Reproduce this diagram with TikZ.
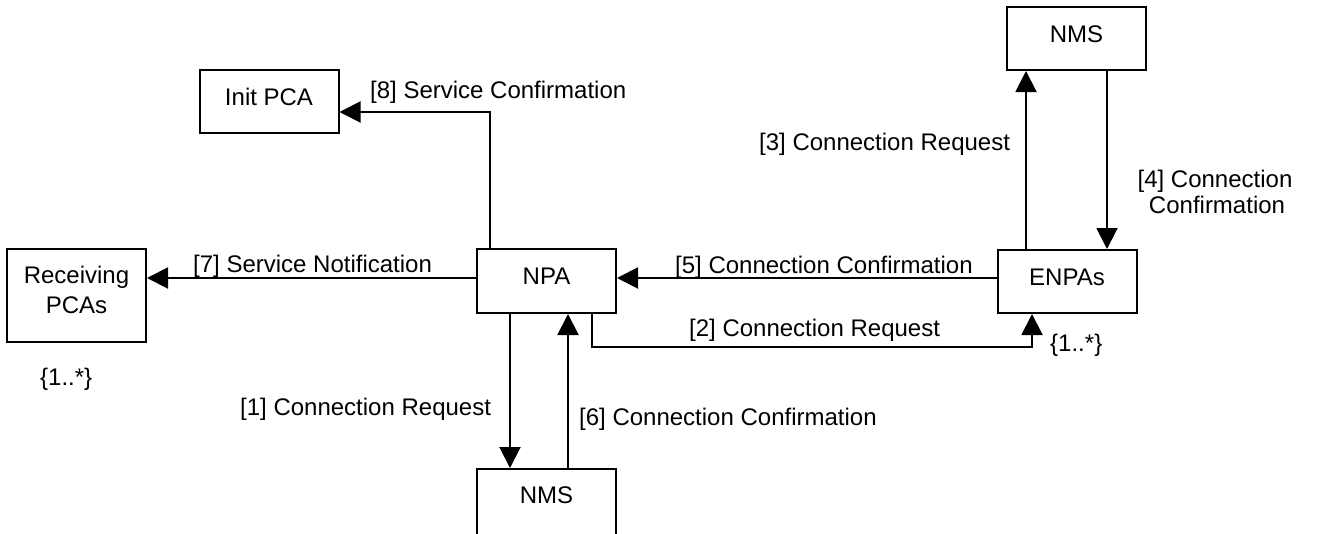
\documentclass[tikz,border=0pt]{standalone}
\usepackage{fontspec}
\setmainfont{Liberation Sans}
\usetikzlibrary{arrows.meta}
\begin{document}
\begin{tikzpicture}[x=1pt,y=-1pt,
  every node/.style={font=\fontsize{24}{28}\selectfont},
  box/.style={draw, line width=2pt, inner sep=0pt, text height=17.2pt, text depth=10pt,
              minimum width=139pt, minimum height=63pt},
  arr/.style={line width=2pt, -{Triangle[length=21pt,width=21pt]}},
  lab/.style={anchor=base west, inner sep=0pt}]
\useasboundingbox (0,0) rectangle (1317,533);
\clip (0,0) rectangle (1317,533);
% boxes
\node[box] (initpca) at (269,101.5) {Init PCA};
\node[box, minimum height=93pt] (recv) at (76.5,295.5) {};
\node[lab, anchor=base] (recv1) at (76.5,283.6) {Receiving};
\node[lab, anchor=base] (recv2) at (76.5,313.6) {PCAs};
\node[box, minimum height=64pt] (npa) at (546.5,281) {NPA};
\node[box] (enpas) at (1067,281.5) {ENPAs};
\node[box] (nmst) at (1076.5,38.5) {NMS};
\node[box, minimum height=100pt, text depth=48pt] (nmsb) at (546.5,519) {NMS};
% connectors
\coordinate (p8) at ([xshift=14pt]npa.north west);
\draw[arr] (p8) |- ([yshift=-10.5pt]initpca.east);
\coordinate (p7) at ([yshift=3pt]npa.west);
\draw[arr] (p7) -- (p7 -| recv.east);
\coordinate (p5) at ([yshift=3.5pt]enpas.west);
\draw[arr] (p5) -- (p5 -| npa.east);
\coordinate (p2) at ([xshift=-25pt]npa.south east);
\coordinate (q2) at ([xshift=35.5pt]enpas.south west);
\draw[arr] (p2) -- ++(0,33) -| (q2);
\coordinate (p1) at ([xshift=34pt]npa.south west);
\draw[arr] (p1) -- (p1 |- nmsb.north);
\coordinate (p6) at ([xshift=92pt]nmsb.north west);
\draw[arr] (p6) -- (p6 |- npa.south);
\coordinate (p3) at ([xshift=29.5pt]enpas.north west);
\draw[arr] (p3) -- (p3 |- nmst.south);
\coordinate (p4) at ([xshift=101pt]nmst.south west);
\draw[arr] (p4) -- (p4 |- enpas.north);
% labels
\node[lab] (l8) at (370,98.5) {[8] Service Confirmation};
\node[lab] (l7) at (193,272.5) {[7] Service Notification};
\node[lab] (l5) at (675,273.5) {[5] Connection Confirmation};
\node[lab] (l2) at (689,336.5) {[2] Connection Request};
\node[lab] (l1) at (240,415.5) {[1] Connection Request};
\node[lab] (l6) at (579,425.5) {[6] Connection Confirmation};
\node[lab] (l3) at (759,150.5) {[3] Connection Request};
\node[lab, anchor=base] (l4a) at (1215,187) {[4] Connection};
\node[lab, anchor=base] (l4b) at (1217,213) {Confirmation};
\node[lab] (m1) at (40,385.5) {\{1..*\}};
\node[lab] (m2) at (1050,351) {\{1..*\}};
\end{tikzpicture}
\end{document}
